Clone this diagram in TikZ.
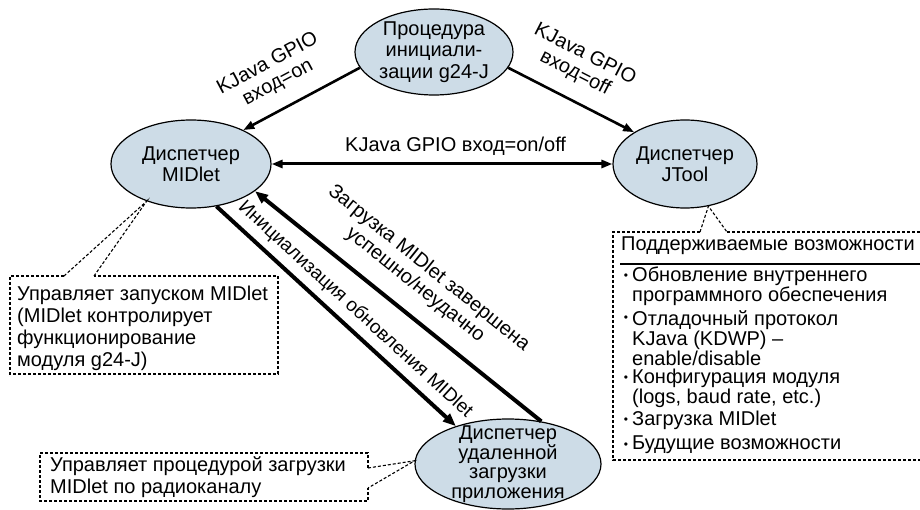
\documentclass[tikz,border=0pt]{standalone}
\usepackage{fontspec}
\setmainfont{Liberation Sans}
\usetikzlibrary{shapes.geometric,arrows.meta}
\definecolor{nodefill}{RGB}{205,220,231}
\newcommand\dgsize{\fontsize{20}{21.5}\selectfont}
\newcommand\dglist{\fontsize{20}{20}\selectfont}
\begin{document}
\begin{tikzpicture}[x=1pt,y=-1pt,
  >={Triangle[length=11pt,width=8pt]},
  state/.style={ellipse,draw=black,line width=1.2pt,fill=nodefill,
    inner xsep=0pt,inner ysep=-12pt,align=center,font=\dgsize},
  lbl/.style={inner sep=1pt,align=center,font=\dgsize},
  toparrow/.style={line width=2.6pt},
  midarrow/.style={line width=3pt},
  bigarrow/.style={line width=4pt,>={Triangle[length=13pt,width=10pt]}},
  callout/.style={line width=1.1pt,dash pattern=on 3pt off 2pt},
  txt/.style={inner sep=0pt,align=left,font=\dgsize,anchor=west},
  ftxt/.style={inner sep=0pt,align=left,font=\dglist,anchor=west},
  bul/.style={inner sep=0pt,font=\fontsize{12}{12}\selectfont}
]
\useasboundingbox (0,0) rectangle (920,510);

% ellipses
\node[state,minimum width=158pt,minimum height=86pt] (init) at (434,52) {Процедура\\инициали-\\зации g24-J};
\node[state,minimum width=160pt,minimum height=88pt] (midlet) at (191,164) {Диспетчер\\MIDlet};
\node[state,minimum width=144pt,minimum height=88pt] (jtool) at (685,164) {Диспетчер\\JTool};
\node[state,minimum width=186pt,minimum height=90pt,font=\fontsize{20}{19.5}\selectfont] (ota) at (508,464) {Диспетчер\\удаленной\\загрузки\\приложения};

% arrows
\draw[toparrow,<-] (midlet.33) -- node[lbl,sloped,above=14pt,pos=0.4] (l1) {KJava GPIO\\вход=on} (init.192);
\draw[toparrow,->] (init.348) -- node[lbl,sloped,above=14pt,pos=0.44] (l2) {KJava GPIO\\вход=off} (jtool.148);
\draw[midarrow,<->] (midlet.east) -- node[lbl,above=6pt,pos=0.54] (l3) {KJava GPIO вход=on/off} (jtool.west);
\draw[bigarrow,->] (midlet.301) -- node[lbl,sloped,above=6pt,pos=0.53,font=\fontsize{19}{21}\selectfont] (l4) {Инициализация обновления MIDlet} (ota.144);
\draw[bigarrow,<-] (midlet.337) -- node[lbl,sloped,above=15pt,pos=0.5] (l5) {Загрузка MIDlet завершена\\успешно/неудачно} (ota.52);

% callout: MIDlet
\coordinate (ma) at (64,276);
\coordinate (mb) at (94,276);
\draw[callout] (ma) -- (10,276) -- (10,374) -- (278,374) -- (278,276) -- (mb);
\draw[callout] (ma) -- (midlet.220) -- (mb);
\node[txt,font=\fontsize{20}{22}\selectfont] (mtext) at (17,328) {Управляет запуском MIDlet\\(MIDlet контролирует\\функционирование\\модуля g24-J)};

% callout: OTA
\coordinate (oa) at (368,468);
\coordinate (ob) at (368,488);
\draw[callout] (oa) -- (368,453) -- (40,453) -- (40,501) -- (368,501) -- (ob);
\draw[callout] (oa) -- (ota.178) -- (ob);
\node[txt,font=\fontsize{20}{22}\selectfont] (otext) at (50,477) {Управляет процедурой загрузки\\MIDlet по радиоканалу};

% callout: JTool
\coordinate (ja) at (700,232);
\coordinate (jb) at (727,232);
\draw[callout] (ja) -- (613,232) -- (613,460) -- (930,460);
\draw[callout] (jb) -- (930,232);
\draw[callout] (ja) -- (jtool.299) -- (jb);
\node[txt] (jhead) at (621,246) {Поддерживаемые возможности};
\draw[line width=1.5pt] (620,264) -- (930,264);

\node[bul] (b1) at (626,277) {•};
\node[ftxt] (f1) at (632,286) {Обновление внутреннего\\программного обеспечения};
\node[bul] (b2) at (626,319) {•};
\node[ftxt] (f2) at (632,338) {Отладочный протокол\\KJava (KDWP) –\\enable/disable};
\node[bul] (b3) at (626,379) {•};
\node[ftxt] (f3) at (632,388) {Конфигурация модуля\\(logs, baud rate, etc.)};
\node[bul] (b4) at (626,421) {•};
\node[ftxt] (f4) at (632,420) {Загрузка MIDlet};
\node[bul] (b5) at (626,446) {•};
\node[ftxt] (f5) at (632,445) {Будущие возможности};
\end{tikzpicture}
\end{document}
